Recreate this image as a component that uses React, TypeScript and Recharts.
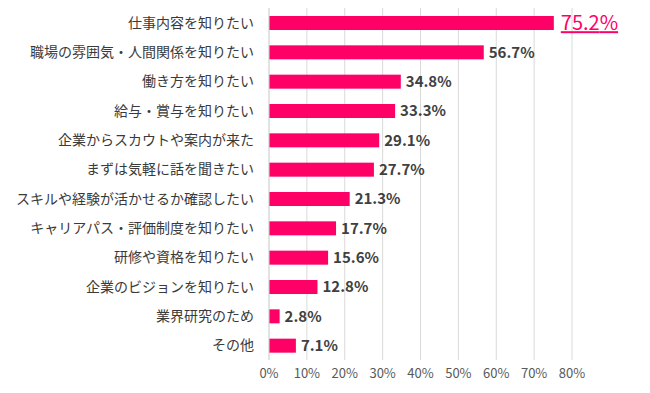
import React from 'react';
import { BarChart, Bar, XAxis, YAxis, CartesianGrid, LabelList } from 'recharts';

const categories = [
  '仕事内容を知りたい',
  '職場の雰囲気・人間関係を知りたい',
  '働き方を知りたい',
  '給与・賞与を知りたい',
  '企業からスカウトや案内が来た',
  'まずは気軽に話を聞きたい',
  'スキルや経験が活かせるか確認したい',
  'キャリアパス・評価制度を知りたい',
  '研修や資格を知りたい',
  '企業のビジョンを知りたい',
  '業界研究のため',
  'その他',
];
const values = [75.2, 56.7, 34.8, 33.3, 29.1, 27.7, 21.3, 17.7, 15.6, 12.8, 2.8, 7.1];
const xTicks = [0, 10, 20, 30, 40, 50, 60, 70, 80];

const data = categories.map((name, i) => ({ name, value: values[i] }));

const PINK = '#ff0066';
const FONT = '"Noto Sans CJK JP", "Noto Sans", sans-serif';

// first bar gets the big pink underlined label
const ValueLabel = (props: any) => {
  const { x, y, width, height, value, index } = props;
  const top = index === 0;
  return (
    <text
      x={x + width + (top ? 7 : 5)}
      y={y + height / 2}
      dy="0.36em"
      fill={top ? PINK : '#404040'}
      fontSize={top ? 20 : 15}
      fontWeight={top ? 400 : 700}
      fontFamily={FONT}
      textDecoration={top ? 'underline' : undefined}
    >
      {value.toFixed(1)}%
    </text>
  );
};

const BarShape = (p: any) => (
  <rect x={p.x} y={p.y} width={Math.max(0, p.width)} height={p.height} fill={PINK} />
);

export default function App() {
  return (
    <div style={{ width: 650, height: 393, background: '#fff', fontFamily: FONT }}>
      <style>{`body{margin:0}`}</style>
      <BarChart
        width={650}
        height={393}
        data={data}
        layout="vertical"
        margin={{ top: 8, right: 78, bottom: 8, left: 0 }}
        barSize={14}
      >
        <CartesianGrid horizontal={false} stroke="#d9d9d9" />
        <XAxis
          type="number"
          domain={[0, 80]}
          ticks={xTicks}
          tickFormatter={(v: number) => `${v}%`}
          axisLine={false}
          tickLine={false}
          tickMargin={3}
          height={25}
          tick={{ fill: '#595959', fontSize: 13, fontFamily: FONT }}
        />
        <YAxis
          type="category"
          dataKey="name"
          width={269}
          axisLine={{ stroke: '#d9d9d9' }}
          tickLine={false}
          tickMargin={9}
          interval={0}
          tick={{ fill: '#3a3a3a', fontSize: 14, fontFamily: FONT }}
        />
        <Bar dataKey="value" fill={PINK} shape={BarShape} isAnimationActive={false}>
          <LabelList dataKey="value" content={ValueLabel} />
        </Bar>
      </BarChart>
    </div>
  );
}
